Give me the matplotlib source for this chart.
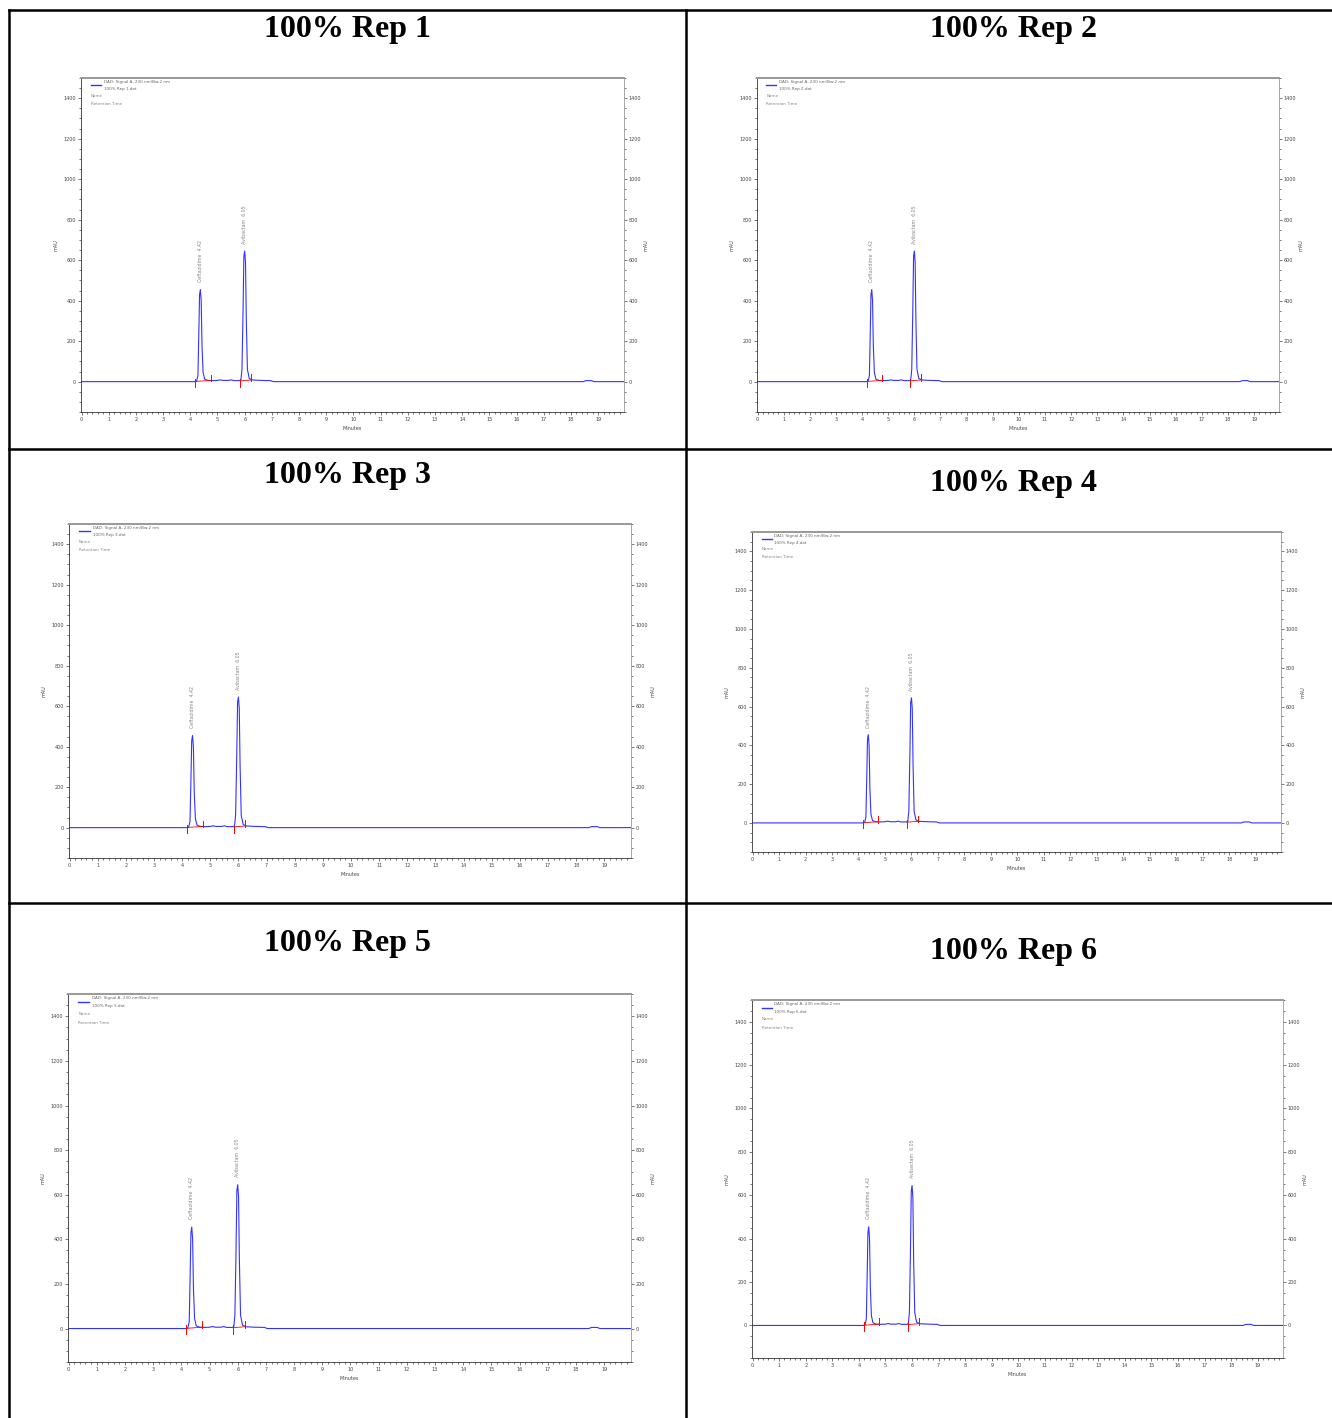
import matplotlib
matplotlib.use("Agg")
import matplotlib.pyplot as plt
from matplotlib.lines import Line2D
from matplotlib.ticker import MultipleLocator

W, H = 1332, 1418

# chromatogram trace (minutes, mAU), same for all reps
time = [0, 4.15, 4.23, 4.28, 4.31, 4.34, 4.37, 4.40, 4.43, 4.47, 4.53, 4.65,
        4.80, 5.00, 5.10, 5.20, 5.40, 5.50, 5.60, 5.80, 5.86, 5.90, 5.94,
        5.97, 6.00, 6.03, 6.06, 6.10, 6.17, 6.30, 6.60, 6.95, 7.05, 18.45,
        18.55, 18.75, 18.85, 19.95]
signal = [0, 0, 2, 30, 220, 430, 455, 400, 180, 45, 12, 6,
          5, 6, 9, 6, 6, 9, 5, 5, 8, 60, 350,
          620, 645, 590, 300, 60, 15, 8, 6, 5, 0, 0,
          5, 5, 0, 0]

peak_names = ["Ceftazidime", "Avibactam"]
peak_rt = [4.42, 6.05]
peak_apex = [4.37, 6.00]
peak_height = [455, 645]
base_start = [4.18, 5.83]
base_end = [4.75, 6.25]
base_level = [(1, 6), (4, 8)]

reps = ["100% Rep 1", "100% Rep 2", "100% Rep 3",
        "100% Rep 4", "100% Rep 5", "100% Rep 6"]
# axes boxes in pixels: left, top, right, bottom
boxes = [(81, 78, 624, 412), (757, 78, 1279, 412),
         (69, 524, 631, 858), (752, 532, 1281, 852),
         (68, 994, 631, 1362), (752, 1000, 1283, 1358)]
title_xy = [(347, 30), (1013, 30), (347, 476), (1013, 484), (347, 944), (1013, 952)]

fig = plt.figure(figsize=(W / 100, H / 100), dpi=100)
fig.patch.set_facecolor("white")

# table grid
def hline(y, x0, x1):
    fig.add_artist(Line2D([x0 / W, x1 / W], [1 - y / H, 1 - y / H],
                          color="black", lw=1.8, transform=fig.transFigure))

def vline(x, y0, y1):
    fig.add_artist(Line2D([x / W, x / W], [1 - y0 / H, 1 - y1 / H],
                          color="black", lw=1.8, transform=fig.transFigure))

for y in [10, 449, 903]:
    hline(y, 9, W)
vline(9, 10, H)
vline(686, 10, H)

for rep, (l, t, r, b), (tx, ty) in zip(reps, boxes, title_xy):
    fig.text(tx / W, 1 - ty / H, rep, ha="center", va="center",
             fontsize=23, fontweight="bold", family="Liberation Serif")

    ax = fig.add_axes([l / W, 1 - b / H, (r - l) / W, (b - t) / H])
    ax.plot(time, signal, color="#3333ff", lw=0.8)
    for s, e, (y0, y1) in zip(base_start, base_end, base_level):
        ax.plot([s, e], [y0, y1], color="red", lw=0.6)
        ax.plot([s, s], [-25, 15], color="red", lw=0.7)
        ax.plot([e, e], [y1 - 5, y1 + 28], color="red", lw=0.7)
    for name, rt, x, ht in zip(peak_names, peak_rt, peak_apex, peak_height):
        ax.text(x, ht + 35, f"{name}  {rt:.2f}", rotation=90, ha="center",
                va="bottom", fontsize=3.4, color="#888888")

    ax.set_xlim(-0.02, 19.95)
    ax.set_ylim(-150, 1500)
    ax.xaxis.set_major_locator(MultipleLocator(1))
    ax.xaxis.set_minor_locator(MultipleLocator(0.2))
    ax.yaxis.set_minor_locator(MultipleLocator(50))
    ax.set_yticks(range(0, 1401, 200))
    ax.tick_params(which="both", direction="out", labelsize=3.5,
                   colors="#444444", width=0.5, right=True, labelright=True,
                   top=False, pad=1)
    ax.tick_params(which="major", length=2.5)
    ax.tick_params(which="minor", length=1.2)
    ax.set_xlabel("Minutes", fontsize=3.5, color="#444444", labelpad=3)
    ax.set_ylabel("mAU", fontsize=3.5, color="#444444", labelpad=4)
    ax2 = ax.secondary_yaxis("right")
    ax2.set_yticks([])
    ax2.spines["right"].set_visible(False)
    ax2.set_ylabel("mAU", fontsize=3.5, color="#444444", labelpad=14)

    for side in ["left", "bottom"]:
        ax.spines[side].set_color("#333333")
        ax.spines[side].set_linewidth(0.6)
    ax.spines["top"].set_color("#999999")
    ax.spines["top"].set_linewidth(1.4)
    ax.spines["right"].set_color("#999999")
    ax.spines["right"].set_linewidth(0.6)

    # legend block
    ax.plot([0.018, 0.037], [0.979, 0.979], transform=ax.transAxes,
            color="#3333ff", lw=1.0)
    ax.text(0.042, 0.988, "DAD: Signal A, 230 nm/Bw:2 nm", transform=ax.transAxes,
            fontsize=3, color="#666666", va="center")
    ax.text(0.042, 0.967, rep + ".dat", transform=ax.transAxes,
            fontsize=3, color="#666666", va="center")
    ax.text(0.018, 0.946, "Name", transform=ax.transAxes,
            fontsize=3, color="#888888", va="center")
    ax.text(0.018, 0.922, "Retention Time", transform=ax.transAxes,
            fontsize=3, color="#888888", va="center")

fig.savefig("out.png", dpi=100)
